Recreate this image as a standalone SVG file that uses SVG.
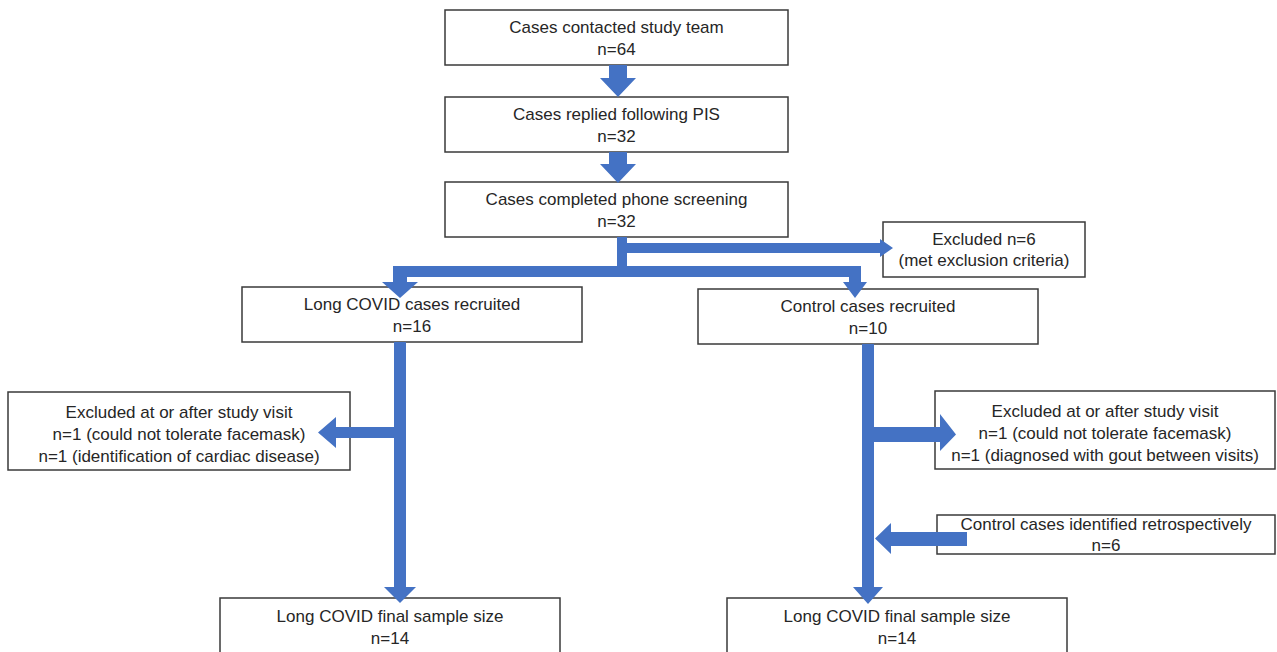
<svg xmlns="http://www.w3.org/2000/svg" width="1277" height="652" viewBox="0 0 1277 652">
<style>
.box{fill:#ffffff;stroke:#3a3a3a;stroke-width:1.5}
.t{font-family:"Liberation Sans",Arial,sans-serif;font-size:17px;fill:#262626;text-anchor:middle}
.c{fill:#4472C4;stroke:none}
</style>
<rect width="1277" height="652" fill="#ffffff"/>
<g id="n1"><rect class="box" x="445" y="10" width="343" height="55"/><text class="t" x="616.5" y="33">Cases contacted study team</text><text class="t" x="616.5" y="55">n=64</text></g>
<g id="n2"><rect class="box" x="445" y="97" width="343" height="55"/><text class="t" x="616.5" y="120">Cases replied following PIS</text><text class="t" x="616.5" y="142">n=32</text></g>
<g id="n3"><rect class="box" x="445" y="182" width="343" height="55"/><text class="t" x="616.5" y="205">Cases completed phone screening</text><text class="t" x="616.5" y="227">n=32</text></g>
<g id="n4"><rect class="box" x="883" y="222" width="202" height="55"/><text class="t" x="984" y="245">Excluded n=6</text><text class="t" x="984" y="266">(met exclusion criteria)</text></g>
<g id="n5"><rect class="box" x="242" y="287" width="340" height="55"/><text class="t" x="412" y="310">Long COVID cases recruited</text><text class="t" x="412" y="332">n=16</text></g>
<g id="n6"><rect class="box" x="698" y="289" width="340" height="55"/><text class="t" x="868" y="312">Control cases recruited</text><text class="t" x="868" y="334">n=10</text></g>
<g id="n7"><rect class="box" x="8" y="392" width="342" height="78"/><text class="t" x="179" y="418">Excluded at or after study visit</text><text class="t" x="179" y="440">n=1 (could not tolerate facemask)</text><text class="t" x="179" y="462">n=1 (identification of cardiac disease)</text></g>
<g id="n8"><rect class="box" x="935" y="391" width="340" height="78"/><text class="t" x="1105" y="417">Excluded at or after study visit</text><text class="t" x="1105" y="439">n=1 (could not tolerate facemask)</text><text class="t" x="1105" y="461">n=1 (diagnosed with gout between visits)</text></g>
<g id="n9"><rect class="box" x="937" y="515" width="338" height="39"/><text class="t" x="1106" y="530">Control cases identified retrospectively</text><text class="t" x="1106" y="551">n=6</text></g>
<g id="n10"><rect class="box" x="220" y="598" width="340" height="62"/><text class="t" x="390" y="622">Long COVID final sample size</text><text class="t" x="390" y="644">n=14</text></g>
<g id="n11"><rect class="box" x="727" y="598" width="340" height="62"/><text class="t" x="897" y="622">Long COVID final sample size</text><text class="t" x="897" y="644">n=14</text></g>
<g id="connectors">
<polygon class="c" points="609,65 627,65 627,78 636,78 618,97 600,78 609,78"/>
<polygon class="c" points="609,152 627,152 627,164 636,164 618,183 600,164 609,164"/>
<rect class="c" x="617" y="237" width="10" height="40"/>
<polygon class="c" points="617,243 880,243 880,239 893,248 880,257 880,253 617,253"/>
<rect class="c" x="393" y="266" width="468" height="11"/>
<polygon class="c" points="393,266 407,266 407,282 418,282 400,298 382,282 393,282"/>
<polygon class="c" points="849,266 861,266 861,282 867,282 855,298 843,282 849,282"/>
<polygon class="c" points="394,342 406,342 406,587 416,587 400,603 384,587 394,587"/>
<polygon class="c" points="394,427 336,427 336,417 318,432.5 336,448 336,438 394,438"/>
<polygon class="c" points="862,344 874,344 874,587 883,587 868,604 853,587 862,587"/>
<polygon class="c" points="874,427 940,427 940,414 956,434.5 940,451 940,442 874,442"/>
<polygon class="c" points="967,532 891,532 891,523 875,538.5 891,554 891,546 967,546"/>
</g>
</svg>
